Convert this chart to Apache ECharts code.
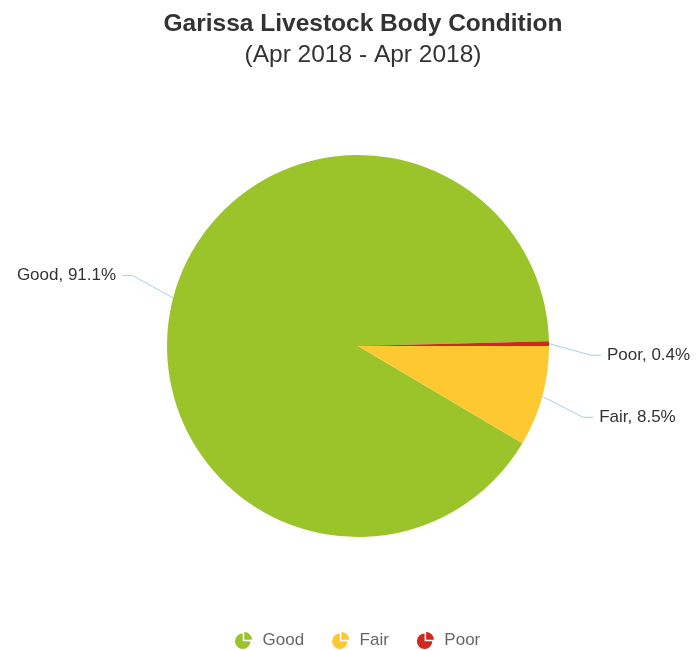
<!DOCTYPE html>
<html><head><meta charset="utf-8">
<script src="https://cdn.jsdelivr.net/npm/echarts@6/dist/echarts.min.js"></script>
<style>html,body{margin:0;padding:0;background:#fff}#c{width:700px;height:650px}</style>
</head><body><div id="c"></div>
<script>
const categories = ['Good', 'Fair', 'Poor'];
const values = [91.1, 8.5, 0.4];
const colors = ['#9bc42a', '#fec930', '#d0281c'];
const titleText = 'Garissa Livestock Body Condition';
const subtitleText = '(Apr 2018 - Apr 2018)';

const total = values.reduce((a, b) => a + b, 0);
const poorShare = values[2] / total * 360;
const iconPath = 'path://M44,56 L84,56 A40,40 0 1 1 44,16 Z M52,48 L52,8 A40,40 0 0 1 92,48 Z';
// vertical label nudges (style only), per category order
const labelNudge = {Good: -15, Fair: 13, Poor: 12};

const chart = echarts.init(document.getElementById('c'), null, {renderer: 'canvas'});
chart.setOption({
  animation: false,
  textStyle: {fontFamily: 'Liberation Sans, Arial, sans-serif'},
  title: {
    text: titleText,
    subtext: subtitleText,
    left: 358,
    textAlign: 'center',
    top: 7,
    itemGap: 6,
    textStyle: {fontSize: 24.5, fontWeight: 'bold', color: '#333'},
    subtextStyle: {fontSize: 24.5, color: '#333'}
  },
  legend: {
    top: 627,
    left: 230,
    itemWidth: 18,
    itemHeight: 17,
    itemGap: 28,
    icon: iconPath,
    textStyle: {fontSize: 17, color: '#666', padding: [0, 0, 0, 5]},
    data: categories
  },
  series: [{
    type: 'pie',
    center: [358, 346],
    radius: 191,
    clockwise: false,
    startAngle: poorShare,
    avoidLabelOverlap: false,
    label: {
      show: true,
      formatter: p => p.name + ', ' + p.value + '%',
      fontSize: 17,
      color: '#333',
      distanceToLabelLine: 6
    },
    labelLine: {
      show: true,
      length: 30,
      length2: 22,
      smooth: false,
      lineStyle: {color: '#a9cfe0', width: 1}
    },
    labelLayout: function (params) {
      const name = categories[params.dataIndex];
      const dy = labelNudge[name] || 0;
      const pts = params.labelLinePoints;
      if (!pts) return {dy: dy};
      const p0 = pts[0], p2 = pts[2];
      const dir = p2[0] < p0[0] ? 1 : -1;
      const end = [p2[0], p2[1] + dy];
      const bend = [p2[0] + dir * 10, p2[1] + dy];
      return {dy: dy, labelLinePoints: [p0, bend, end]};
    },
    itemStyle: {borderWidth: 0},
    emphasis: {disabled: true},
    data: categories.map((c, i) => ({name: c, value: values[i], itemStyle: {color: colors[i]}}))
  }]
});
</script></body></html>
